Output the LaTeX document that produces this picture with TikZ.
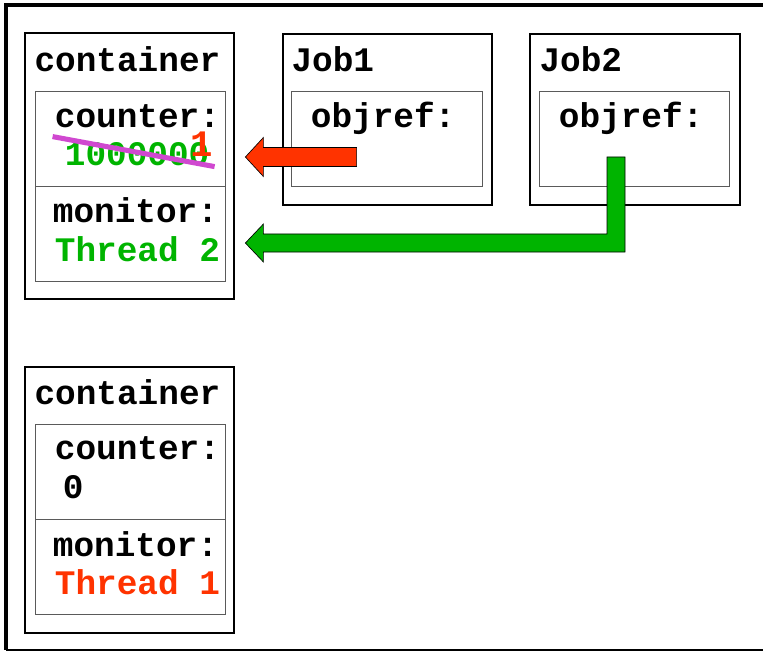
\documentclass[tikz,border=0pt]{standalone}
\usepackage{fontspec}
\setmonofont{Liberation Mono}
\usetikzlibrary{positioning, calc, fit}
\definecolor{Ink}{HTML}{000000}
\definecolor{Frame}{HTML}{5A5A5A}
\definecolor{Go}{HTML}{00B400}
\definecolor{Stop}{HTML}{FF3300}
\definecolor{Strike}{HTML}{D048D0}
\tikzset{
    objbox/.style={rectangle, draw=Ink, line width=1.1pt, inner sep=0pt},
    fieldbox/.style={rectangle, draw=Frame, line width=0.6pt, inner sep=0pt},
    lbl/.style={anchor=base west, inner sep=0pt, font=\ttfamily\bfseries\fontsize{25.8}{30}\selectfont, text=Ink},
    val/.style={lbl, text=Go},
    block/.style={draw=Ink, line width=0.5pt, line join=miter},
}

\begin{document}
\begin{tikzpicture}[x=0.75pt, y=-0.75pt]
    \useasboundingbox (0,0) rectangle (763,652);
    % Rahmen
    \draw[line width=2.3pt] (763,5) -- (6,5) -- (6,650);
    \draw[line width=1pt] (6,650) -- (763,650);

    % oberer container
    \node[objbox, fit={(25,33) (234,299)}] (cont1) {};
    \node[fieldbox, fit={(35,91) (225,186)}] (cnt1) {};
    \node[fieldbox, fit={(35,186) (225,281)}] (mon1) {};
    \node[lbl] (cont1t) at ($(cont1.north west)+(10,39)$) {container};
    \node[lbl] (cnt1t) at ($(cnt1.north west)+(20,37)$) {counter:};
    \node[val] (cnt1v) at ($(cnt1.north west)+(30,75)$) {1000000};
    \node[lbl] (mon1t) at ($(mon1.north west)+(18,37)$) {monitor:};
    \node[val] (mon1v) at ($(mon1.north west)+(20,76)$) {Thread 2};
    % durchgestrichen, neuer Wert
    \coordinate (s1) at ($(cnt1.north west)+(18,46)$);
    \coordinate (s2) at ($(cnt1.north west)+(180,76)$);
    \draw[Strike, line width=3.8pt] (s1) -- (s2);
    \node[lbl, text=Stop, font=\ttfamily\bfseries\fontsize{28}{30}\selectfont] (cnt1n) at ($(cnt1.north west)+(156,66)$) {1};

    % Jobs
    \node[objbox, fit={(283,34) (492,205)}] (job1) {};
    \node[fieldbox, fit={(291,91) (482,186)}] (ref1) {};
    \node[lbl] (job1t) at ($(job1.north west)+(9,38)$) {Job1};
    \node[lbl] (ref1t) at ($(ref1.north west)+(20,37)$) {objref:};

    \node[objbox, fit={(530,34) (740,205)}] (job2) {};
    \node[fieldbox, fit={(539,91) (729,186)}] (ref2) {};
    \node[lbl] (job2t) at ($(job2.north west)+(10,38)$) {Job2};
    \node[lbl] (ref2t) at ($(ref2.north west)+(20,37)$) {objref:};

    % Referenz von Job1 (rot)
    \coordinate (rtip) at ($(cnt1.east)+(20,18.5)$);
    \coordinate (rtail) at ($(ref1.west)+(66,18.5)$);
    \draw[block, fill=Stop] (rtip) -- ++(18,-19.5) -- ++(0,10) -- ($(rtail)+(0,-9.5)$)
        -- ($(rtail)+(0,9.5)$) -- ($(rtip)+(18,9.5)$) -- ++(0,10) -- cycle;

    % Referenz von Job2 (gruen)
    \coordinate (gtip) at ($(mon1.east)+(20,9.5)$);
    \coordinate (gtail) at ($(ref2.center)+(-18,18.5)$);
    \coordinate (gbend) at (gtail |- gtip);
    \draw[block, fill=Go] (gtip) -- ++(18,-19) -- ++(0,10) -- ($(gbend)+(-9,-9)$)
        -- ($(gtail)+(-9,0)$) -- ($(gtail)+(9,0)$) -- ($(gbend)+(9,9)$)
        -- ($(gtip)+(18,9)$) -- ++(0,10) -- cycle;

    % unterer container
    \node[objbox, fit={(25,367) (234,633)}] (cont2) {};
    \node[fieldbox, fit={(35,424) (225,519)}] (cnt2) {};
    \node[fieldbox, fit={(35,519) (225,614)}] (mon2) {};
    \node[lbl] (cont2t) at ($(cont2.north west)+(10,38)$) {container};
    \node[lbl] (cnt2t) at ($(cnt2.north west)+(20,36)$) {counter:};
    \node[lbl] (cnt2v) at ($(cnt2.north west)+(28,75)$) {0};
    \node[lbl] (mon2t) at ($(mon2.north west)+(18,38)$) {monitor:};
    \node[val, text=Stop] (mon2v) at ($(mon2.north west)+(20,76)$) {Thread 1};
\end{tikzpicture}
\end{document}
